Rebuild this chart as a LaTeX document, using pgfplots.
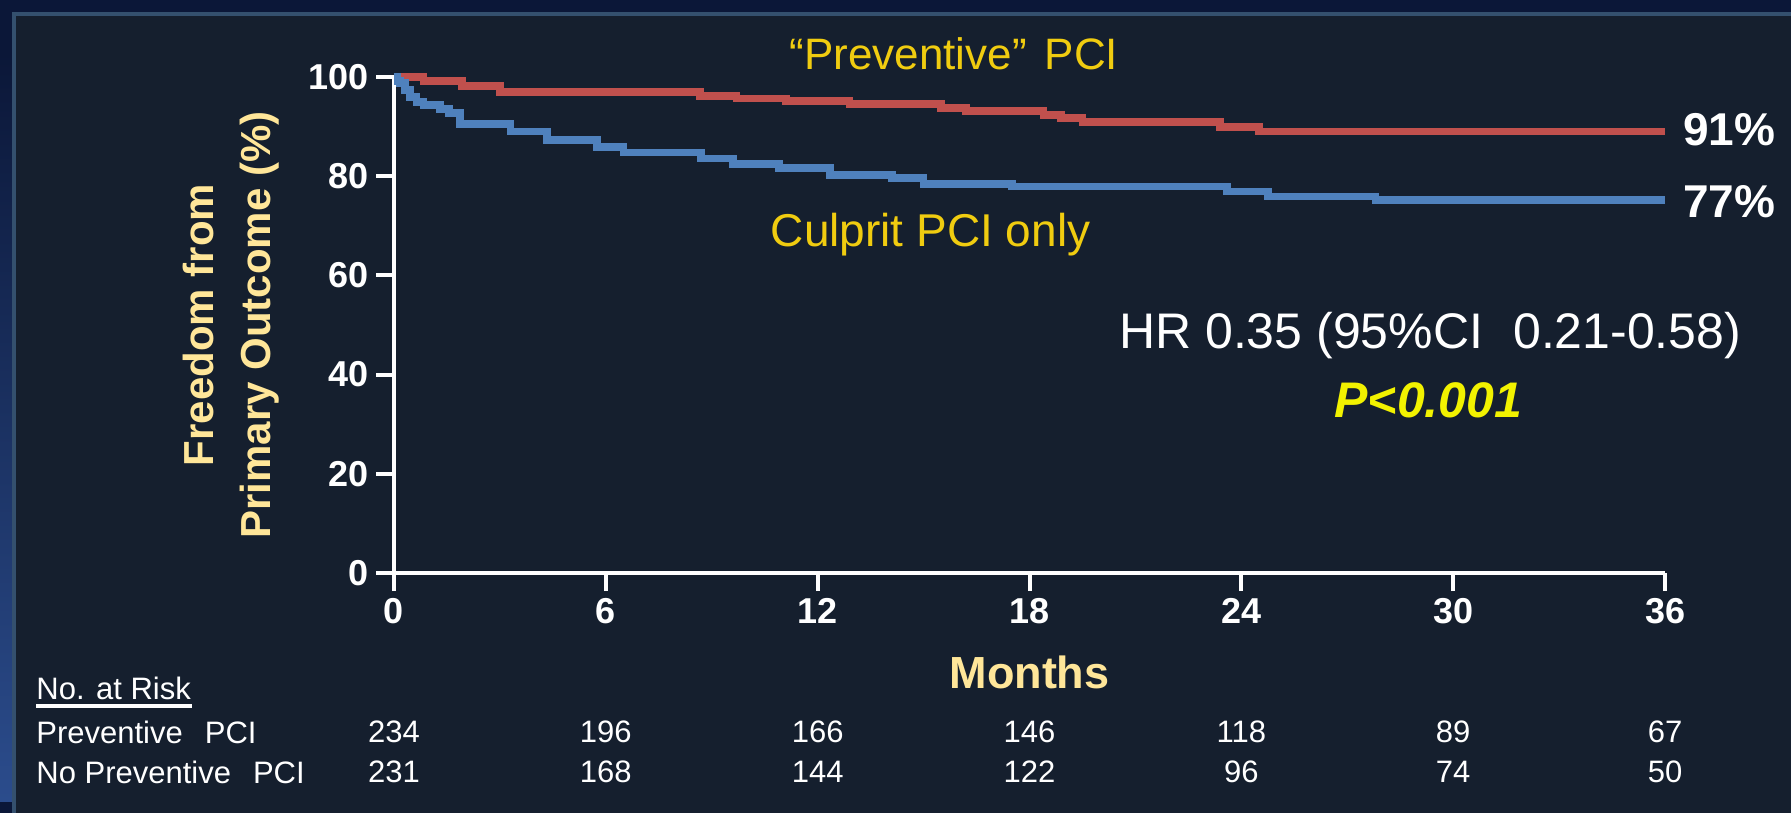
\documentclass[border=0pt]{standalone}
\usepackage{pgfplots}
\pgfplotsset{compat=1.18}
\usepackage{fontspec}
\setmainfont{Liberation Sans}
\definecolor{panel}{HTML}{151F2E}
\definecolor{outer}{HTML}{0B1738}
\definecolor{lblue}{HTML}{2B4C8C}
\definecolor{edge}{HTML}{34506E}
\definecolor{kmred}{HTML}{C0504D}
\definecolor{kmblue}{HTML}{4F81BD}
\definecolor{gold}{HTML}{F0CC10}
\definecolor{pale}{HTML}{FFE699}
\definecolor{pyellow}{HTML}{F2F200}
\newcommand{\fs}[1]{\fontsize{#1}{#1}\selectfont}
\begin{document}
\begin{tikzpicture}[x=1pt,y=1pt]
\fill[outer] (0,0) rectangle (895.5,406.5);
\shade[top color=outer, bottom color=lblue] (0,6) rectangle (6,380);
\fill[panel] (6,0) rectangle (895.5,400.5);
\draw[edge, line width=2pt] (7,0) -- (7,399.5) -- (895.5,399.5);
\begin{axis}[
  at={(197pt,120pt)}, anchor=south west,
  scale only axis, width=635.5pt, height=248pt,
  xmin=0, xmax=36, ymin=0, ymax=100,
  enlargelimits=false, clip=false,
  axis lines=left,
  axis line style={-, white, line width=2pt},
  xtick={0,6,...,36}, ytick={0,20,...,100},
  tick align=outside, major tick length=9pt,
  tick style={white, line width=2pt},
  tick label style={font=\fs{18}\bfseries, text=white},
  /pgf/number format/assume math mode=true,
]
\addplot[kmred, line width=3.8pt, const plot, mark=none] coordinates {
(0,100) (0.83,99.2) (1.93,98.2) (3.0,97.0) (8.67,96.2) (9.7,95.7) (11.1,95.2)
(12.9,94.6) (15.5,93.7) (16.2,93.1) (18.4,92.3) (18.9,91.7) (19.5,90.9)
(23.4,89.9) (24.5,89.0) (36,89.0)};
\addplot[kmblue, line width=3.8pt, const plot, mark=none] coordinates {
(0,100) (0.1,99.2) (0.17,98.8) (0.31,97.4) (0.45,96.0) (0.64,95.0) (0.83,94.4)
(1.3,93.5) (1.55,92.7) (1.87,90.5) (3.3,89.0) (4.33,87.3) (5.75,85.9) (6.5,84.8)
(8.7,83.6) (9.6,82.5) (10.9,81.6) (12.35,80.2) (14.1,79.6) (15.0,78.4)
(17.5,77.9) (23.6,76.9) (24.75,75.9) (27.8,75.2) (36,75.2)};
\node[text=gold, font=\fs{22}] at (axis cs:15.86,104.7) {“Preventive”\hspace{9pt}PCI};
\node[text=gold, font=\fs{23}] at (axis cs:15.2,68.3) {Culprit PCI only};
\node[text=white, font=\fs{23}\bfseries, anchor=west, inner sep=0pt] at (axis cs:36.5,89.3) {91\%};
\node[text=white, font=\fs{23}\bfseries, anchor=west, inner sep=0pt] at (axis cs:36.5,74.8) {77\%};
\node[text=white, font=\fs{25}] at (axis cs:29.35,47.8) {HR 0.35 (95\%CI\hspace{15pt}0.21-0.58)};
\node[text=pyellow, font=\fs{25}\bfseries\itshape] at (axis cs:29.3,34.9) {P<0.001};
\node[text=pale, font=\fs{22.5}\bfseries] at (axis cs:18,-20) {Months};
\node[text=pale, font=\fontsize{21}{28.5}\selectfont\bfseries, rotate=90, align=center] at (axis cs:-4.6,50) {Freedom from\\Primary Outcome (\%)};
\node[text=white, font=\fs{15.5}] at (axis cs:0,-32.06) {234};
\node[text=white, font=\fs{15.5}] at (axis cs:6,-32.06) {196};
\node[text=white, font=\fs{15.5}] at (axis cs:12,-32.06) {166};
\node[text=white, font=\fs{15.5}] at (axis cs:18,-32.06) {146};
\node[text=white, font=\fs{15.5}] at (axis cs:24,-32.06) {118};
\node[text=white, font=\fs{15.5}] at (axis cs:30,-32.06) {89};
\node[text=white, font=\fs{15.5}] at (axis cs:36,-32.06) {67};
\node[text=white, font=\fs{15.5}] at (axis cs:0,-40.12) {231};
\node[text=white, font=\fs{15.5}] at (axis cs:6,-40.12) {168};
\node[text=white, font=\fs{15.5}] at (axis cs:12,-40.12) {144};
\node[text=white, font=\fs{15.5}] at (axis cs:18,-40.12) {122};
\node[text=white, font=\fs{15.5}] at (axis cs:24,-40.12) {96};
\node[text=white, font=\fs{15.5}] at (axis cs:30,-40.12) {74};
\node[text=white, font=\fs{15.5}] at (axis cs:36,-40.12) {50};
\end{axis}
\node[text=white, font=\fs{15.5}, anchor=west, inner sep=0pt] at (18,62.5) {No. at Risk};
\draw[white, line width=2pt] (18,53.6) -- (96,53.6);
\node[text=white, font=\fs{15.5}, anchor=west, inner sep=0pt] at (18,40.5) {Preventive\hspace{11pt}PCI};
\node[text=white, font=\fs{15.5}, anchor=west, inner sep=0pt] at (18,20.5) {No Preventive\hspace{11pt}PCI};
\pgfresetboundingbox
\useasboundingbox (0,0) rectangle (895.5,406.5);
\end{tikzpicture}
\end{document}
